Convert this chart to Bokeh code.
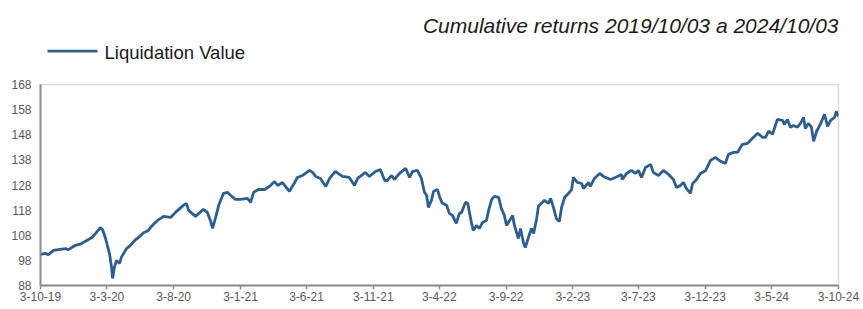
import datetime as dt
from bokeh.plotting import figure
from bokeh.layouts import column
from bokeh.models import (ColumnDataSource, FixedTicker, Label, Range1d)
from bokeh.embed import file_html
from bokeh.resources import INLINE

# ---- data ----
start_date = "2019-10-03"
end_date = "2024-10-03"

day_offsets = [
    0, 11, 18, 30, 41, 57, 64, 80, 94, 110, 117, 126, 137, 142, 149, 153, 158, 163, 165, 169,
    174, 181, 185, 197, 206, 218, 224, 236, 247, 256, 263, 268, 282, 298, 309, 327, 334, 339, 355, 373,
    382, 389, 394, 401, 408, 419, 428, 435, 446, 458, 474, 481, 488, 499, 513, 524, 536, 543, 554, 561,
    570, 582, 588, 600, 616, 623, 630, 641, 653, 662, 675, 691, 707, 719, 726, 744, 753, 767, 778, 788,
    794, 804, 810, 822, 836, 845, 852, 863, 872, 879, 884, 888, 895, 900, 909, 914, 920, 930, 936, 943,
    952, 959, 964, 973, 978, 987, 991, 998, 1005, 1012, 1021, 1026, 1033, 1039, 1049, 1055, 1062, 1067, 1074, 1081,
    1085, 1094, 1099, 1106, 1110, 1117, 1124, 1129, 1136, 1140, 1147, 1154, 1163, 1168, 1175, 1181, 1188, 1193, 1200, 1209,
    1216, 1220, 1229, 1239, 1243, 1255, 1259, 1268, 1280, 1289, 1305, 1316, 1330, 1332, 1342, 1353, 1362, 1369, 1376, 1385,
    1397, 1403, 1415, 1426, 1438, 1449, 1456, 1465, 1472, 1479, 1488, 1493, 1502, 1511, 1523, 1534, 1545, 1557, 1568, 1575,
    1587, 1596, 1607, 1619, 1630, 1642, 1653, 1660, 1667, 1676, 1687, 1699, 1703, 1710, 1717, 1724, 1733, 1740, 1747, 1751,
    1758, 1765, 1770, 1777, 1784, 1795, 1802, 1809, 1818, 1822, 1827,
]

liquidation_value = [
    100.4, 100.8, 100.3, 102.0, 102.3, 102.7, 102.3, 104.0, 104.7, 106.3, 107.0, 108.7, 111.0, 110.3, 106.7, 104.0, 100.7, 94.8, 90.8, 95.2,
    98.0, 96.8, 99.2, 102.7, 104.0, 106.3, 107.0, 109.0, 109.9, 111.9, 113.1, 113.9, 115.5, 115.1, 117.1, 119.9, 120.7, 117.9, 115.5, 118.3,
    117.1, 113.9, 110.7, 115.1, 119.9, 124.7, 125.1, 123.9, 122.3, 122.3, 122.7, 121.1, 125.1, 126.2, 126.2, 127.4, 129.4, 127.8, 129.0, 127.4,
    125.5, 129.0, 131.0, 131.8, 133.8, 133.0, 131.4, 130.6, 127.4, 130.6, 133.4, 131.4, 131.0, 127.8, 130.6, 133.0, 131.4, 133.4, 134.2, 129.8,
    129.8, 131.8, 130.2, 132.6, 134.6, 131.0, 133.4, 133.8, 130.6, 125.1, 123.9, 119.1, 121.9, 125.5, 126.2, 123.1, 120.7, 119.9, 116.7, 115.9,
    112.7, 116.7, 117.1, 121.1, 120.7, 112.7, 109.9, 111.9, 110.7, 113.1, 113.9, 117.9, 122.3, 123.5, 123.1, 118.7, 115.9, 111.9, 113.9, 115.9,
    111.9, 106.7, 110.7, 104.7, 103.1, 107.1, 110.7, 108.7, 114.7, 119.5, 120.7, 121.9, 120.7, 122.7, 118.7, 114.7, 113.5, 119.1, 123.1, 124.7,
    126.2, 131.0, 129.0, 128.6, 126.6, 129.0, 127.4, 130.6, 132.6, 131.4, 130.2, 131.0, 132.2, 130.2, 132.6, 133.8, 132.6, 133.8, 131.0, 135.0,
    136.2, 133.0, 131.8, 133.8, 132.2, 130.2, 127.0, 127.8, 129.0, 126.6, 124.7, 128.6, 130.2, 132.6, 133.8, 137.8, 139.0, 137.4, 136.6, 140.2,
    141.0, 141.0, 144.2, 144.6, 146.6, 148.6, 147.0, 147.0, 149.4, 148.2, 154.1, 153.7, 152.1, 154.1, 151.0, 151.7, 151.0, 152.5, 154.9, 150.5,
    152.5, 151.0, 145.4, 149.4, 151.7, 156.1, 151.3, 153.7, 154.9, 157.3, 155.3,
]

tick_dates = ["2019-10-03", "2020-03-03", "2020-08-03", "2021-01-03", "2021-06-03", "2021-11-03",
              "2022-04-03", "2022-09-03", "2023-02-03", "2023-07-03", "2023-12-03", "2024-05-03", "2024-10-03"]
tick_labels = ["3-10-19", "3-3-20", "3-8-20", "3-1-21", "3-6-21", "3-11-21",
               "3-4-22", "3-9-22", "3-2-23", "3-7-23", "3-12-23", "3-5-24", "3-10-24"]
y_ticks = [88, 98, 108, 118, 128, 138, 148, 158, 168]

series_name = "Liquidation Value"
title_text = "Cumulative returns 2019/10/03 a 2024/10/03"

# ---- build ----
t0 = dt.datetime.fromisoformat(start_date)
dates = [t0 + dt.timedelta(days=d) for d in day_offsets]
epoch = dt.datetime(1970, 1, 1)
def ms(d):
    return (d - epoch).total_seconds() * 1000.0
tick_ms = [ms(dt.datetime.fromisoformat(s)) for s in tick_dates]

src = ColumnDataSource(data=dict(date=dates, val=liquidation_value))

LINE = "#2C5E91"
LABEL = "#595959"
TEXT = "#1a1a1a"
FONT = "Liberation Sans"
W = 863
HEAD_H = 76

# header: title + legend (its frame is aligned with the main frame, 40..838)
head = figure(width=W, height=HEAD_H, output_backend="svg", toolbar_location=None,
              x_range=Range1d(40, 838), y_range=Range1d(HEAD_H, 0),
              min_border=0, x_axis_location=None, y_axis_location=None)
head.grid.visible = False
head.outline_line_color = None
head.line([47, 97], [50.7, 50.7], line_color=LINE, line_width=2.8)
head.add_layout(Label(x=104, y=51.5, text=series_name, text_align="left", text_baseline="alphabetic",
                      text_font=FONT, text_font_size="18.5px", text_color=TEXT))
head.add_layout(Label(x=838, y=24.5, text=title_text, text_align="right", text_baseline="alphabetic",
                      text_font=FONT, text_font_style="italic", text_font_size="21px", text_color=TEXT))

# main chart
p = figure(frame_width=798, frame_height=201, x_axis_type="datetime",
           output_backend="svg", toolbar_location=None,
           x_range=Range1d(ms(t0), ms(dt.datetime.fromisoformat(end_date))),
           y_range=Range1d(88, 168),
           min_border_left=40, min_border_right=25, min_border_top=8, min_border_bottom=10)

p.line("date", "val", source=src, line_color=LINE, line_width=2.8)

p.grid.visible = False
p.outline_line_color = "#d9d9d9"
p.outline_line_width = 1.5

xa = p.xaxis[0]
xa.ticker = FixedTicker(ticks=tick_ms)
xa.major_label_overrides = {t: l for t, l in zip(tick_ms, tick_labels)}
xa.axis_line_color = "#8c8c8c"
xa.axis_line_width = 2
xa.major_tick_line_color = "#8c8c8c"
xa.major_tick_line_width = 1.5
xa.major_tick_out = 4
xa.major_tick_in = 0
xa.minor_tick_line_color = None
xa.major_label_standoff = 2
xa.major_label_text_font = FONT
xa.major_label_text_font_size = "12px"
xa.major_label_text_color = LABEL

ya = p.yaxis[0]
ya.ticker = FixedTicker(ticks=y_ticks)
ya.axis_line_color = "#8c8c8c"
ya.axis_line_width = 2
ya.major_tick_line_color = None
ya.major_tick_out = 0
ya.major_tick_in = 0
ya.minor_tick_line_color = None
ya.major_label_standoff = 9
ya.major_label_text_font = FONT
ya.major_label_text_font_size = "12px"
ya.major_label_text_color = LABEL

layout = column(head, p, spacing=0)
open("out.html", "w").write(file_html(layout, INLINE))
